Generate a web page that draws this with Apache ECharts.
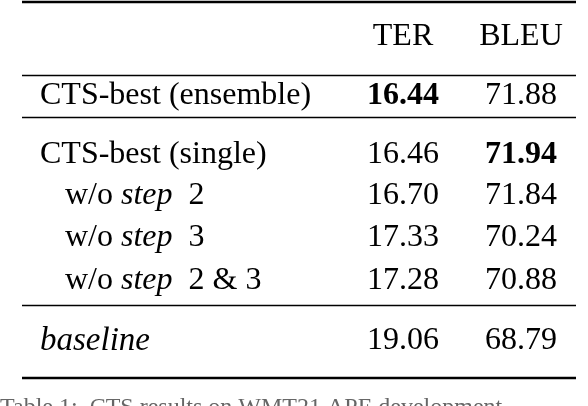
<!DOCTYPE html><html><head><meta charset="utf-8">
<script src="https://cdn.jsdelivr.net/npm/echarts@6/dist/echarts.min.js"></script>
<style>html,body{margin:0;background:#fff}#c{width:588px;height:406px}</style></head><body><div id="c"></div>
<script>
const headers = ["", "TER", "BLEU"];
const systems = ["CTS-best (ensemble)", "CTS-best (single)", "w/o step 2", "w/o step 3", "w/o step 2 & 3", "baseline"];
const ter = [16.44, 16.46, 16.70, 17.33, 17.28, 19.06];
const bleu = [71.88, 71.94, 71.84, 70.24, 70.88, 68.79];
const bestTer = 0, bestBleu = 1;

const rowY = [37, 96, 155, 196, 238, 281, 341];
const rules = [[2, 2.5], [75.5, 1.5], [117.5, 1.5], [305.5, 1.5], [378, 2.5]];
const F = "'Liberation Serif', 'DejaVu Serif', serif";
const SZ = 32;

function textEl(x, y, t, align, bold) {
  return {type:'text', style:{x, y, text:t, fill:'#000', font:(bold?'bold ':'')+SZ+'px '+F, align, verticalAlign:'middle'}};
}
const chart = echarts.init(document.getElementById('c'), null, {renderer:'canvas'});
chart.setOption({
  animation:false,
  grid:{left:0,right:0,top:0,bottom:0},
  xAxis:{type:'value',min:0,max:588,show:false},
  yAxis:{type:'value',min:0,max:406,inverse:true,show:false},
  series:[{
    type:'custom', coordinateSystem:'cartesian2d',
    data:[0,1,2,3,4,5,6].map(i=>[i]),
    renderItem:(p, api)=>{
      const i = api.value(0);
      const y = api.coord([0,rowY[i]])[1];
      const x1 = api.coord([40,0])[0], xT = api.coord([403,0])[0], xB = api.coord([521,0])[0];
      const ch = [];
      if (i===0) {
        ch.push(textEl(xT,y,headers[1],'center'), textEl(xB,y,headers[2],'center'));
        rules.forEach(r=>{const yy=api.coord([0,r[0]])[1];
          ch.push({type:'line',shape:{x1:api.coord([22,0])[0],y1:yy,x2:api.coord([576,0])[0],y2:yy},style:{stroke:'#000',lineWidth:r[1]}});});
      } else {
        const k=i-1, name=systems[k];
        if (name.startsWith('w/o')) {
          const rest = name.slice(8);
          ch.push({type:'text',style:{x:api.coord([65,0])[0],y,verticalAlign:'middle',
            text:'{n|w/o }{i|step}{n| '+rest+'}',
            rich:{n:{font:SZ+'px '+F,fill:'#000'},i:{font:'italic '+SZ+'px '+F,fill:'#000'}}}});
        } else if (name==='baseline') {
          ch.push({type:'text',style:{x:x1,y,text:name,fill:'#000',font:'italic '+(SZ+1)+'px '+F,verticalAlign:'middle'}});
        } else ch.push(textEl(x1,y,name,'left'));
        ch.push(textEl(xT,y,ter[k].toFixed(2),'center',k===bestTer));
        ch.push(textEl(xB,y,bleu[k].toFixed(2),'center',k===bestBleu));
      }
      return {type:'group',children:ch};
    }
  }],
  graphic:[{type:'text',left:0,top:396,style:{text:'Table 1:  CTS results on WMT21 APE development',fill:'#666',font:'24px '+F}}]
});
</script></body></html>
